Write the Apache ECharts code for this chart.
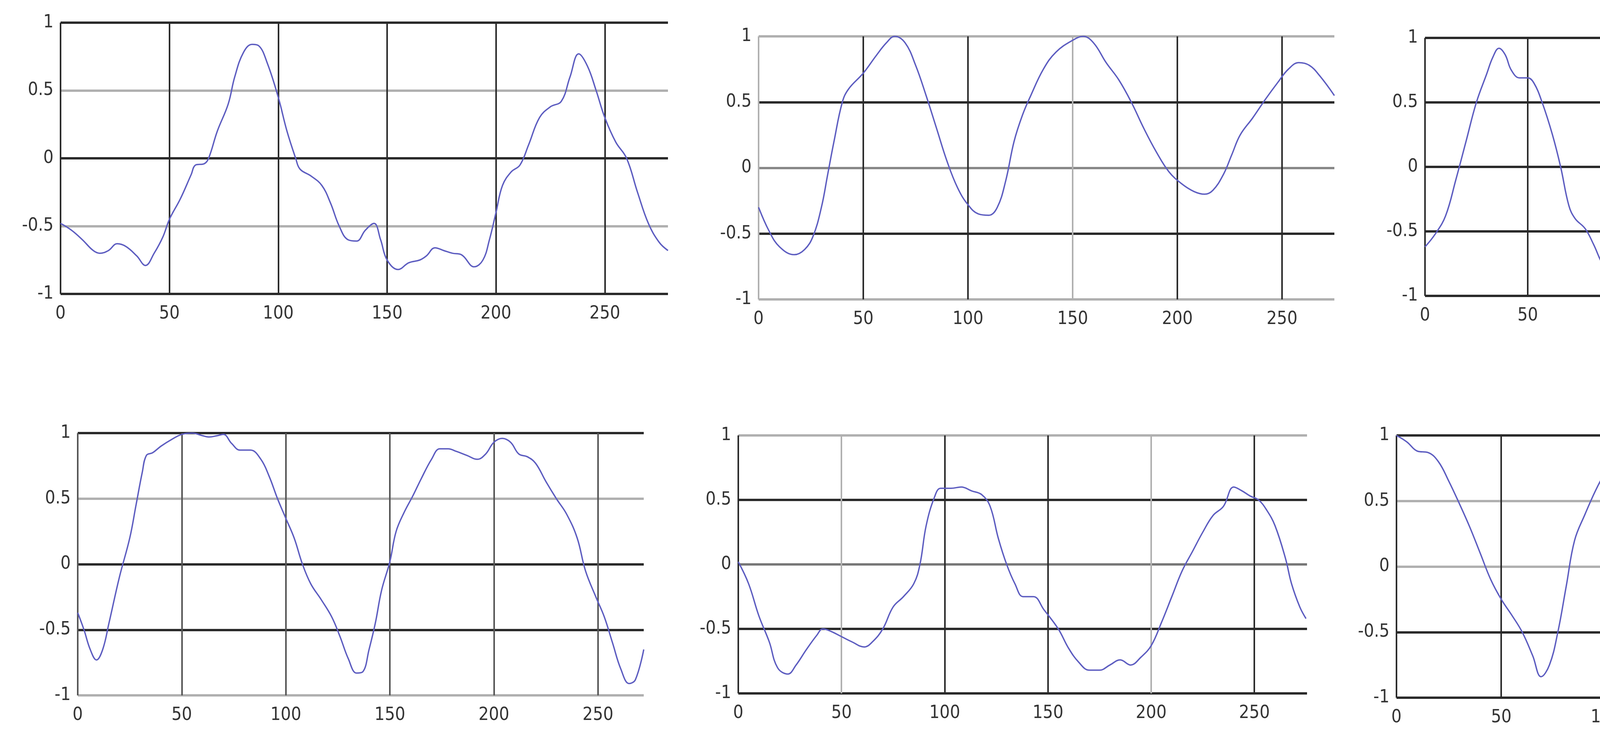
<!DOCTYPE html>
<html><head><meta charset="utf-8">
<script src="https://cdn.jsdelivr.net/npm/echarts@6/dist/echarts.min.js"></script>
<style>html,body{margin:0;background:#fff}#c{width:5154px;height:1883px}</style>
</head><body><div id="c"></div>
<script>
const xTicks = [0, 50, 100, 150, 200, 250];
const yTicks = [-1, -0.5, 0, 0.5, 1];
const s1 = [[0,-0.48],[5,-0.53],[10,-0.6],[15,-0.68],[18,-0.7],[22,-0.68],[26,-0.63],[30,-0.65],[35,-0.72],[39,-0.79],[43,-0.7],[47,-0.58],[50,-0.45],[55,-0.3],[60,-0.12],[62,-0.05],[66,-0.04],[68,0],[72,0.2],[77,0.4],[80,0.6],[84,0.78],[88,0.84],[91,0.83],[95,0.7],[100,0.45],[104,0.2],[108,0],[110,-0.08],[115,-0.13],[120,-0.2],[124,-0.33],[128,-0.5],[132,-0.6],[136,-0.61],[140,-0.53],[144,-0.48],[147,-0.6],[150,-0.75],[155,-0.82],[160,-0.77],[165,-0.75],[168,-0.72],[172,-0.66],[176,-0.68],[180,-0.7],[184,-0.71],[190,-0.8],[194,-0.75],[197,-0.6],[200,-0.4],[203,-0.2],[207,-0.1],[211,-0.05],[215,0.1],[220,0.3],[225,0.38],[230,0.42],[234,0.6],[238,0.77],[242,0.68],[246,0.5],[250,0.3],[255,0.12],[260,0],[265,-0.25],[270,-0.48],[275,-0.62],[279,-0.68]];
const s2 = [[0,-0.3],[5,-0.48],[10,-0.6],[17,-0.66],[22,-0.62],[26,-0.52],[30,-0.3],[33,-0.05],[36,0.2],[40,0.5],[43,0.6],[50,0.72],[56,0.85],[61,0.95],[65,1.0],[70,0.95],[75,0.78],[80,0.55],[85,0.3],[90,0.05],[95,-0.15],[100,-0.28],[105,-0.35],[110,-0.36],[114,-0.3],[118,-0.1],[122,0.2],[126,0.4],[130,0.55],[136,0.75],[142,0.88],[150,0.97],[155,1.0],[160,0.95],[166,0.8],[172,0.67],[178,0.5],[184,0.3],[190,0.12],[196,-0.03],[202,-0.12],[208,-0.18],[213,-0.2],[217,-0.17],[222,-0.05],[226,0.1],[230,0.25],[236,0.38],[242,0.52],[248,0.65],[253,0.75],[258,0.8],[263,0.78],[268,0.7],[275,0.55]];
const s3 = [[0,-0.62],[5,-0.52],[10,-0.38],[15,-0.1],[20,0.2],[25,0.5],[30,0.72],[33,0.85],[36,0.92],[39,0.87],[42,0.75],[46,0.69],[50,0.69],[53,0.65],[57,0.5],[62,0.25],[66,0],[70,-0.3],[73,-0.4],[78,-0.48],[82,-0.6],[87,-0.77],[92,-0.85],[96,-0.9],[100,-0.97],[103,-1.0],[108,-0.99],[112,-0.9],[117,-0.78],[122,-0.7],[127,-0.68],[131,-0.6],[136,-0.45],[140,-0.25],[145,-0.12],[150,0.02],[155,0.3],[158,0.45],[162,0.54],[166,0.56],[170,0.57],[174,0.59],[177,0.52],[181,0.3],[186,0.08],[190,-0.1],[194,-0.3],[200,-0.42],[205,-0.55],[210,-0.65],[214,-0.73],[218,-0.73],[222,-0.68],[228,-0.67],[232,-0.6],[236,-0.51],[240,-0.51],[244,-0.55],[248,-0.57],[252,-0.52],[257,-0.44],[262,-0.35],[267,-0.2],[272,-0.1],[277,-0.06]];
const s4 = [[0,-0.37],[3,-0.5],[6,-0.65],[9,-0.73],[12,-0.65],[15,-0.45],[20,-0.1],[25,0.2],[28,0.45],[31,0.7],[33,0.83],[36,0.85],[40,0.9],[45,0.95],[50,0.99],[55,1.0],[60,0.98],[63,0.97],[67,0.98],[70,0.99],[74,0.92],[78,0.87],[83,0.87],[88,0.8],[92,0.67],[96,0.5],[100,0.35],[104,0.2],[108,0],[112,-0.15],[117,-0.27],[122,-0.4],[126,-0.55],[130,-0.72],[134,-0.83],[137,-0.82],[140,-0.65],[143,-0.45],[146,-0.2],[150,0.02],[153,0.25],[157,0.4],[161,0.52],[165,0.65],[170,0.8],[174,0.88],[178,0.88],[182,0.86],[187,0.83],[192,0.8],[196,0.84],[200,0.93],[204,0.96],[208,0.93],[212,0.84],[216,0.82],[220,0.77],[225,0.63],[230,0.5],[235,0.38],[240,0.2],[244,-0.05],[249,-0.25],[253,-0.4],[257,-0.6],[261,-0.8],[265,-0.91],[268,-0.88],[272,-0.65]];
const s5 = [[0,0.02],[5,-0.15],[10,-0.4],[15,-0.6],[19,-0.8],[24,-0.85],[28,-0.78],[33,-0.66],[38,-0.55],[41,-0.5],[45,-0.52],[50,-0.56],[55,-0.6],[61,-0.64],[65,-0.6],[70,-0.5],[75,-0.33],[80,-0.25],[85,-0.15],[88,0],[91,0.3],[95,0.52],[98,0.59],[103,0.59],[108,0.6],[113,0.57],[118,0.54],[122,0.45],[126,0.2],[130,0],[134,-0.15],[138,-0.25],[143,-0.25],[148,-0.35],[155,-0.5],[160,-0.65],[165,-0.76],[170,-0.82],[175,-0.82],[180,-0.78],[185,-0.74],[190,-0.78],[195,-0.72],[200,-0.63],[205,-0.45],[210,-0.25],[215,-0.05],[220,0.1],[225,0.25],[230,0.38],[235,0.45],[240,0.6],[244,0.57],[248,0.53],[252,0.5],[256,0.42],[260,0.3],[265,0.05],[268,-0.15],[272,-0.33],[275,-0.42]];
const s6 = [[0,1.0],[5,0.95],[10,0.88],[15,0.87],[20,0.8],[25,0.65],[30,0.48],[35,0.3],[40,0.1],[45,-0.1],[50,-0.25],[55,-0.37],[60,-0.5],[65,-0.68],[69,-0.84],[73,-0.75],[77,-0.5],[81,-0.15],[85,0.2],[90,0.4],[95,0.58],[100,0.73],[105,0.85],[109,0.89],[114,0.87],[120,0.82],[125,0.8],[130,0.87],[135,0.97],[140,0.92],[144,0.83],[149,0.81],[155,0.65],[160,0.55],[165,0.4],[170,0.18],[175,-0.05],[180,-0.2],[185,-0.4],[190,-0.65],[195,-0.87],[199,-0.92],[203,-0.8],[207,-0.65],[211,-0.68],[215,-0.78],[219,-0.84],[223,-0.7],[227,-0.4],[230,-0.1],[234,0.2],[238,0.45],[243,0.62],[248,0.72],[253,0.8],[258,0.87],[263,0.92],[268,0.95],[272,0.94],[277,0.88]];
const seriesData = [s1, s2, s3, s4, s5, s6];

const D = '#2a2a2a', G = '#b0b0b0', M = '#555', T = 'rgba(0,0,0,0)';
const panels = [
  {l:155, r:1710, t:58, b:752, max:279, xc:[D,D,D,D,D,D,T], yc:[D,G,D,G,D]},
  {l:1942, r:3416, t:93, b:766, max:275, xc:[G,D,D,G,D,D,T], yc:[G,D,'#888',D,G]},
  {l:3648, r:5108, t:97, b:757, max:277.5, xc:[D,D,G,G,D,D,T], yc:[D,D,D,D,D]},
  {l:199, r:1648, t:1108, b:1779, max:272, xc:[M,M,M,M,M,M,T], yc:[G,D,D,G,D]},
  {l:1890, r:3346, t:1114, b:1774, max:275.5, xc:[D,G,D,D,G,D,T], yc:[D,D,'#777',D,G]},
  {l:3575, r:5061, t:1114, b:1785, max:277, xc:[D,D,G,D,D,G,T], yc:[D,D,G,G,D]}
];
const grid = [], xAxis = [], yAxis = [], series = [];
const font = {fontFamily:'"Liberation Sans Narrow", "DejaVu Sans Condensed", "Liberation Sans", sans-serif', fontSize:46, color:'#333'};
panels.forEach((p, i) => {
  grid.push({left:p.l, top:p.t, width:p.r - p.l, height:p.b - p.t});
  xAxis.push({type:'value', gridIndex:i, min:0, max:p.max, interval:50,
    axisLine:{show:false}, axisTick:{show:false},
    axisLabel:Object.assign({margin:28, showMaxLabel:false, formatter:v => xTicks.includes(v) ? String(v) : ''}, font),
    splitLine:{show:true, lineStyle:{color:p.xc, width:4}}});
  yAxis.push({type:'value', gridIndex:i, min:-1, max:1, interval:0.5,
    axisLine:{show:false}, axisTick:{show:false},
    axisLabel:Object.assign({margin:18, formatter:v => yTicks.includes(v) ? String(v) : ''}, font),
    splitLine:{show:true, lineStyle:{color:p.yc, width:6}}});
  series.push({type:'line', xAxisIndex:i, yAxisIndex:i, data:seriesData[i], smooth:0.4,
    showSymbol:false, lineStyle:{color:'#5c5cc0', width:3.5}, z:5});
});
const chart = echarts.init(document.getElementById('c'));
chart.setOption({animation:false, backgroundColor:'#fff', grid, xAxis, yAxis, series});
</script></body></html>
